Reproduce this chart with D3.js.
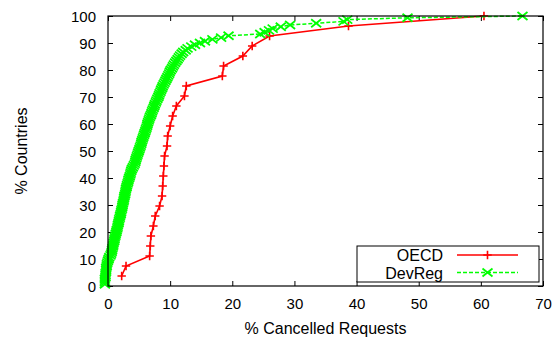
<!DOCTYPE html>
<html><head><meta charset="utf-8">
<script src="https://cdn.jsdelivr.net/npm/d3@7"></script>
<style>body{margin:0;background:#fff}svg{display:block}text{font-family:"Liberation Sans",Arial,sans-serif;fill:#000}</style>
</head><body>
<svg id="c" width="560" height="341"></svg>
<script>
const seriesNames = ["OECD", "DevReg"];
const xTicks = [0, 10, 20, 30, 40, 50, 60, 70];
const yTicks = [0, 10, 20, 30, 40, 50, 60, 70, 80, 90, 100];
// sorted % cancelled requests per country (CDF)
const oecdX = [2.2, 2.9, 6.7, 6.8, 6.9, 7.3, 7.6, 8.3, 8.7, 8.8, 8.9, 9.0, 9.1, 9.5, 9.6, 10.0, 10.4, 11.0, 12.3, 12.6, 18.4, 18.6, 21.7, 23.2, 26.0, 38.7, 60.5];
const devRegX = [-0.5, -0.5, -0.5, -0.5, -0.4, -0.4, -0.4, -0.3, -0.3, -0.3,
  -0.2, -0.2, -0.1, 0.0, 0.1, 0.2, 0.4, 0.5, 0.6, 0.65,
  0.7, 0.8, 0.85, 0.9, 1.0, 1.05, 1.1, 1.2, 1.25, 1.35,
  1.4, 1.5, 1.55, 1.6, 1.7, 1.75, 1.8, 1.9, 1.95, 2.05,
  2.1, 2.15, 2.25, 2.3, 2.35, 2.4, 2.5, 2.55, 2.6, 2.65,
  2.75, 2.8, 2.85, 2.9, 3.0, 3.05, 3.15, 3.25, 3.3, 3.4,
  3.5, 3.6, 3.65, 3.75, 3.85, 4.0, 4.15, 4.3, 4.4, 4.45,
  4.55, 4.65, 4.75, 4.85, 4.95, 5.05, 5.15, 5.25, 5.35, 5.4,
  5.5, 5.6, 5.7, 5.8, 5.9, 6.0, 6.1, 6.2, 6.3, 6.35,
  6.45, 6.55, 6.65, 6.75, 6.9, 7.0, 7.1, 7.2, 7.35, 7.45,
  7.55, 7.7, 7.8, 7.95, 8.1, 8.2, 8.3, 8.45, 8.55, 8.7,
  8.8, 8.95, 9.1, 9.25, 9.4, 9.55, 9.7, 9.85, 9.95, 10.1,
  10.3, 10.45, 10.6, 10.8, 11.0, 11.2, 11.4, 11.6, 11.85, 12.1,
  12.5, 12.8, 13.4, 14.0, 14.8, 15.6, 16.8, 18.2, 19.4, 24.5,
  25.2, 25.9, 26.5, 27.8, 29.3, 33.5, 37.9, 38.5, 48.2, 66.7];
const xTitle = "% Cancelled Requests";
const yTitle = "% Countries";

const svg = d3.select("#c");
const L = 108, R = 543, T = 16, B = 286;
const x = d3.scaleLinear().domain([0, 70]).range([L, R]);
const y = d3.scaleLinear().domain([0, 100]).range([B, T]);

function cdf(arr) { return arr.map((v, i) => [v, (i + 1) / arr.length * 100]); }
const oecd = cdf(oecdX), dev = cdf(devRegX);

const gx = svg.append("g").attr("transform", `translate(0,${B})`)
  .call(d3.axisBottom(x).tickValues(xTicks).tickSize(-5).tickPadding(12));
const gxt = svg.append("g").attr("transform", `translate(0,${T})`)
  .call(d3.axisTop(x).tickValues(xTicks).tickSize(-5).tickFormat(""));
const gy = svg.append("g").attr("transform", `translate(${L},0)`)
  .call(d3.axisLeft(y).tickValues(yTicks).tickSize(-5).tickPadding(12));
const gyr = svg.append("g").attr("transform", `translate(${R},0)`)
  .call(d3.axisRight(y).tickValues(yTicks).tickSize(-5).tickFormat(""));
[gx, gxt, gy, gyr].forEach(g => {
  g.select(".domain").remove();
  g.selectAll("line").attr("stroke", "#000").attr("stroke-width", 1);
  g.selectAll("text").attr("font-size", 15).style("font-family", '"Liberation Sans",Arial,sans-serif');
});
gy.selectAll("text").attr("dy", "0.36em");

svg.append("text").attr("x", (L + R) / 2).attr("y", 334).attr("text-anchor", "middle")
  .attr("font-size", 16).text(xTitle);
svg.append("text").attr("transform", `translate(27,${(T + B) / 2}) rotate(-90)`)
  .attr("text-anchor", "middle").attr("font-size", 16).text(yTitle);

const line = d3.line().x(d => x(d[0])).y(d => y(d[1]));
const plus = 4.2, crossW = 5, crossH = 4;
function drawPlus(g, px, py, col) {
  g.append("path").attr("d", `M${px - plus},${py}H${px + plus}M${px},${py - plus}V${py + plus}`)
    .attr("stroke", col).attr("stroke-width", 1.6).attr("fill", "none");
}
function drawCross(g, px, py, col) {
  g.append("path").attr("d", `M${px - crossW},${py - crossH}L${px + crossW},${py + crossH}M${px - crossW},${py + crossH}L${px + crossW},${py - crossH}`)
    .attr("stroke", col).attr("stroke-width", 1.8).attr("fill", "none");
}
const red = "#ff0000", green = "#00ff00";
const g1 = svg.append("g");
g1.append("path").datum(oecd).attr("d", line).attr("fill", "none").attr("stroke", red).attr("stroke-width", 1.6);
oecd.forEach(d => drawPlus(g1, x(d[0]), y(d[1]), red));
const g2 = svg.append("g");
g2.append("path").datum(dev).attr("d", line).attr("fill", "none").attr("stroke", green)
  .attr("stroke-width", 1.5).attr("stroke-dasharray", "4,2");
dev.forEach(d => drawCross(g2, x(d[0]), y(d[1]), green));

svg.append("rect").attr("x", L).attr("y", T).attr("width", R - L).attr("height", B - T)
  .attr("fill", "none").attr("stroke", "#000").attr("stroke-width", 1.2);

// legend
const lg = svg.append("g");
lg.append("rect").attr("x", 357).attr("y", 246).attr("width", 182).attr("height", 36)
  .attr("fill", "#fff").attr("stroke", "#000").attr("stroke-width", 1);
lg.append("text").attr("x", 443).attr("y", 261).attr("text-anchor", "end").attr("font-size", 16).text(seriesNames[0]);
lg.append("text").attr("x", 443).attr("y", 279).attr("text-anchor", "end").attr("font-size", 16).text(seriesNames[1]);
lg.append("line").attr("x1", 457).attr("x2", 518).attr("y1", 255).attr("y2", 255).attr("stroke", red).attr("stroke-width", 1.6);
drawPlus(lg, 487.5, 255, red);
lg.append("line").attr("x1", 457).attr("x2", 518).attr("y1", 272.5).attr("y2", 272.5).attr("stroke", green)
  .attr("stroke-width", 1.5).attr("stroke-dasharray", "4,2");
drawCross(lg, 487.5, 272.5, green);
</script>
</body></html>
